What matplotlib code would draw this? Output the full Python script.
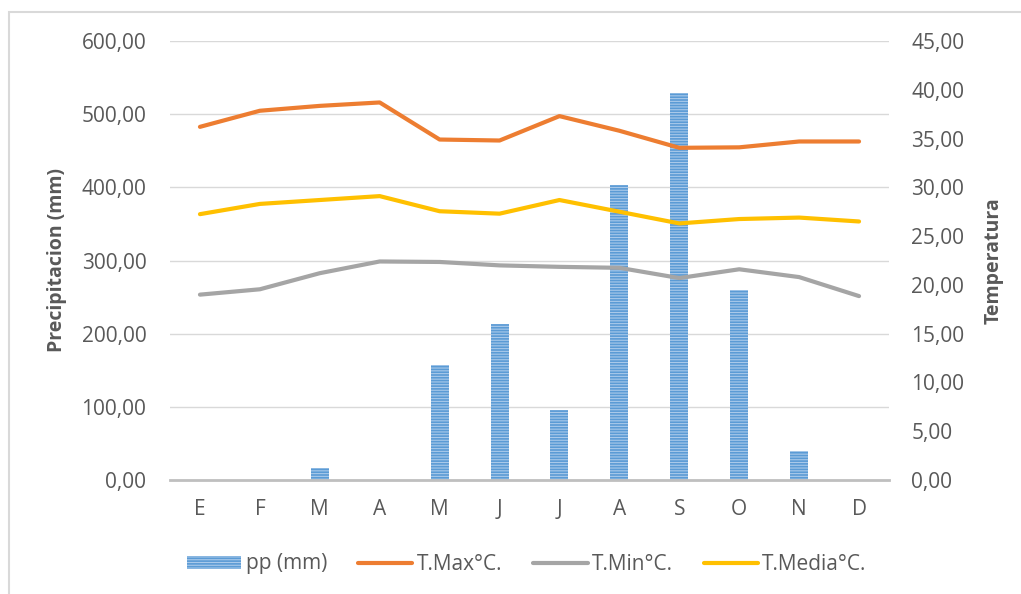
import numpy as np
import matplotlib
matplotlib.use("Agg")
import matplotlib.pyplot as plt
from matplotlib.patches import Rectangle
from matplotlib.ticker import FuncFormatter, MultipleLocator

months = ["E", "F", "M", "A", "M", "J", "J", "A", "S", "O", "N", "D"]
pp_mm = [0, 0, 17, 0, 157, 213, 95, 403, 529, 259, 40, 0]
t_max = [36.2, 37.85, 38.35, 38.7, 34.9, 34.8, 37.3, 35.8, 34.05, 34.1, 34.7, 34.7]
t_min = [19.0, 19.55, 21.2, 22.4, 22.35, 22.0, 21.85, 21.75, 20.7, 21.6, 20.8, 18.85]
t_media = [27.25, 28.3, 28.7, 29.1, 27.55, 27.3, 28.7, 27.5, 26.3, 26.75, 26.9, 26.5]

plt.rcParams["font.family"] = ["Open Sans", "DejaVu Sans"]
plt.rcParams["hatch.linewidth"] = 0.8
TXT = "#595959"

fig = plt.figure(figsize=(10.21, 5.94), dpi=100)
ax = fig.add_axes([170 / 1021, 1 - 480 / 594, 719 / 1021, 439 / 594])
ax2 = ax.twinx()

x = np.arange(len(months))
ax.bar(x, pp_mm, width=0.3, color="#5b9bd5", edgecolor="#a9c9ea",
       hatch="------", linewidth=0, label="pp (mm)")

ax2.plot(x, t_max, color="#ed7d31", lw=3, solid_capstyle="round", label="T.Max°C.")
ax2.plot(x, t_min, color="#a5a5a5", lw=3, solid_capstyle="round", label="T.Min°C.")
ax2.plot(x, t_media, color="#ffc000", lw=3, solid_capstyle="round", label="T.Media°C.")

# decimal comma, two places
fmt = FuncFormatter(lambda v, p: f"{v:.2f}".replace(".", ","))
ax.set_xlim(-0.5, 11.5)
ax.set_ylim(0, 600)
ax.yaxis.set_major_locator(MultipleLocator(100))
ax.yaxis.set_major_formatter(fmt)
ax2.set_ylim(0, 45)
ax2.yaxis.set_major_locator(MultipleLocator(5))
ax2.yaxis.set_major_formatter(fmt)
ax.set_xticks(x, months)

ax.grid(axis="y", color="#d9d9d9", lw=1)
ax.set_axisbelow(True)
for a in (ax, ax2):
    for s in a.spines.values():
        s.set_visible(False)
ax.spines["bottom"].set_visible(True)
ax.spines["bottom"].set_color("#bfbfbf")
ax.spines["bottom"].set_linewidth(2)
ax.spines["bottom"].set_zorder(5)

ax.tick_params(axis="y", length=0, pad=17, labelsize=15, labelcolor=TXT)
ax.tick_params(axis="x", length=0, pad=14, labelsize=15, labelcolor=TXT)
ax2.tick_params(axis="y", length=0, pad=16, labelsize=15, labelcolor=TXT)

ax.set_ylabel("Precipitacion (mm)", fontsize=14, fontweight="bold", color=TXT)
ax.yaxis.set_label_coords(-0.143, 0.5)
ax2.set_ylabel("Temperatura", fontsize=14, fontweight="bold", color=TXT, rotation=90)
ax2.yaxis.set_label_coords(1.132, 0.5)

h1, l1 = ax.get_legend_handles_labels()
h2, l2 = ax2.get_legend_handles_labels()
fig.legend(h1 + h2, l1 + l2, loc="center", bbox_to_anchor=(527 / 1021, 1 - 564 / 594),
           ncol=4, frameon=False, fontsize=15, labelcolor=TXT, handlelength=2.6,
           handleheight=0.6, handletextpad=0.2, columnspacing=1.5)

# outer chart frame
fig.patches.append(Rectangle((9 / 1021, -0.2), 1.2, 0.2 + 1 - 12 / 594,
                             transform=fig.transFigure, fill=False,
                             edgecolor="#d9d9d9", lw=1.5))

fig.savefig("out.png", dpi=100)
